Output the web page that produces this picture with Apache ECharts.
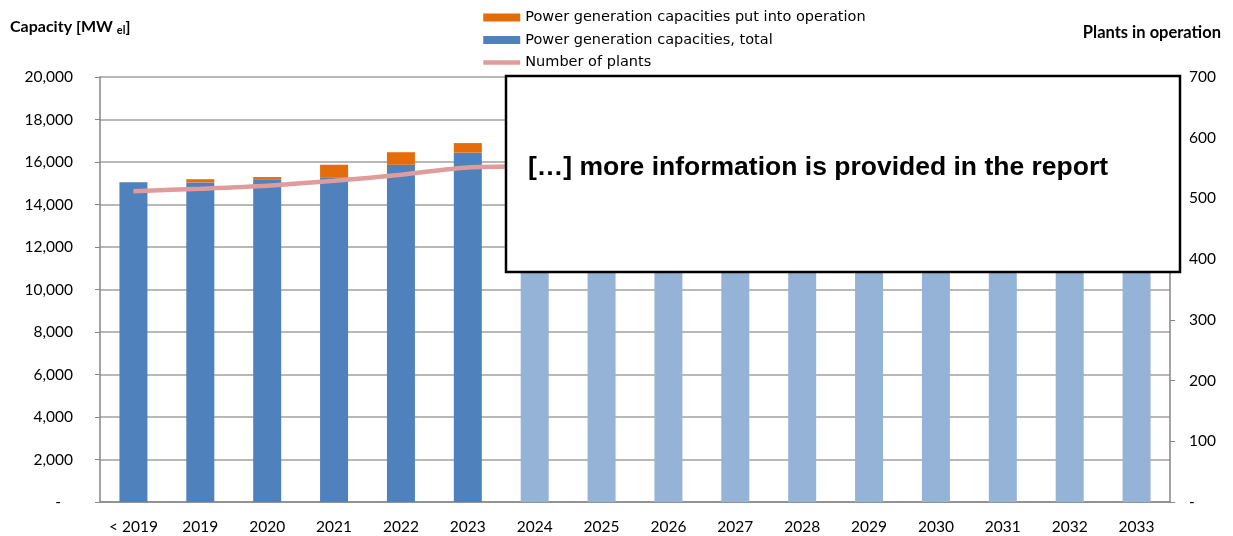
<!DOCTYPE html>
<html>
<head>
<meta charset="utf-8">
<script src="https://cdn.jsdelivr.net/npm/echarts@6/dist/echarts.min.js"></script>
<style>
  html, body { margin: 0; padding: 0; background: #fff; }
  #chart { width: 1233px; height: 536px; }
</style>
</head>
<body>
<div id="chart"></div>
<script>
// data (values after 2024 sit behind the box)
var categories = ['< 2019', '2019', '2020', '2021', '2022', '2023', '2024', '2025',
  '2026', '2027', '2028', '2029', '2030', '2031', '2032', '2033'];
var totalCapacity = [15050, 15040, 15190, 15280, 15870, 16440, 16890, 17200,
  17500, 17700, 17900, 18100, 18200, 18300, 18400, 18500];
var addedCapacity = [0, 150, 100, 590, 590, 450, null, null,
  null, null, null, null, null, null, null, null];
var plantCount = [512, 516, 521, 529, 539, 551, 553, 556,
  559, 562, 564, 566, 568, 570, 572, 574];
var leftTicks = { min: 0, max: 20000, step: 2000 };
var rightTicks = { min: 0, max: 700, step: 100 };
var firstForecast = 6;

var FONT = 'Lato';
var chart = echarts.init(document.getElementById('chart'));

var option = {
  animation: false,
  textStyle: { fontFamily: FONT },
  grid: { left: 100, right: 63, top: 77, bottom: 34 },
  legend: {
    orient: 'vertical',
    left: 481,
    top: 10,
    padding: 0,
    itemWidth: 37,
    itemHeight: 8,
    itemGap: 7.5,
    textStyle: { fontFamily: 'DejaVu Sans', fontSize: 14.5, color: '#000' },
    data: [
      { name: 'Power generation capacities put into operation', icon: 'rect' },
      { name: 'Power generation capacities, total', icon: 'rect' },
      { name: 'Number of plants', itemStyle: { opacity: 0 }, lineStyle: { width: 4.5 } }
    ]
  },
  xAxis: {
    type: 'category',
    data: categories,
    axisLine: { lineStyle: { color: '#868686', width: 1.5 } },
    axisTick: { length: 6, lineStyle: { color: '#868686' } },
    axisLabel: { color: '#000', fontSize: 15.5, margin: 17, fontFamily: FONT }
  },
  yAxis: [{
    type: 'value',
    min: leftTicks.min,
    max: leftTicks.max,
    interval: leftTicks.step,
    axisLine: { show: true, lineStyle: { color: '#868686', width: 1.5 } },
    axisTick: { show: true, length: 5, lineStyle: { color: '#868686' } },
    splitLine: { lineStyle: { color: '#a0a0a0', width: 1.5 } },
    axisLabel: {
      color: '#000', fontSize: 15.5, margin: 27, fontFamily: FONT,
      formatter: function (v) { return v === 0 ? '-   ' : v.toLocaleString('en-US'); }
    }
  }, {
    type: 'value',
    position: 'right',
    min: rightTicks.min,
    max: rightTicks.max,
    interval: rightTicks.step,
    axisLine: { show: true, lineStyle: { color: '#868686', width: 1.5 } },
    axisTick: { show: true, length: 5, lineStyle: { color: '#868686' } },
    splitLine: { show: false },
    axisLabel: {
      color: '#000', fontSize: 15.5, margin: 19, fontFamily: FONT,
      formatter: function (v) { return v === 0 ? '-' : String(v); }
    }
  }],
  series: [{
    name: 'Power generation capacities, total',
    type: 'bar',
    stack: 'cap',
    barWidth: 28,
    itemStyle: { color: '#4f81bd' },
    data: totalCapacity.map(function (v, i) {
      return i >= firstForecast ? { value: v, itemStyle: { color: '#95b3d7' } } : v;
    })
  }, {
    name: 'Power generation capacities put into operation',
    type: 'bar',
    stack: 'cap',
    barWidth: 28,
    itemStyle: { color: '#e46c0a' },
    data: addedCapacity
  }, {
    name: 'Number of plants',
    type: 'line',
    yAxisIndex: 1,
    smooth: 0.3,
    symbol: 'none',
    lineStyle: { color: '#de9c9c', width: 4.5 },
    itemStyle: { color: '#de9c9c' },
    data: plantCount
  }],
  graphic: [{
    type: 'text',
    left: 10,
    top: 19,
    style: {
      text: '{b|Capacity [MW }{s|el}{b|]}',
      rich: {
        b: { fontFamily: FONT, fontWeight: 'bold', fontSize: 16, fill: '#000' },
        s: { fontFamily: FONT, fontWeight: 'bold', fontSize: 11, fill: '#000', padding: [6, 0, 0, 0] }
      }
    }
  }, {
    type: 'text',
    right: 12,
    top: 24,
    style: {
      text: 'Plants in operation',
      fontFamily: FONT, fontWeight: 'bold', fontSize: 16.5, fill: '#000'
    }
  }, {
    type: 'rect',
    z: 100,
    shape: { x: 506, y: 76, width: 674, height: 196 },
    style: { fill: '#fff', stroke: '#000', lineWidth: 2.5 }
  }, {
    type: 'text',
    z: 101,
    x: 528,
    y: 168,
    style: {
      text: '[\u2026] more information is provided in the report',
      fontFamily: 'Liberation Sans', fontWeight: 'bold', fontSize: 26.5,
      fill: '#000', verticalAlign: 'middle'
    }
  }]
};

chart.setOption(option);
</script>
</body>
</html>
